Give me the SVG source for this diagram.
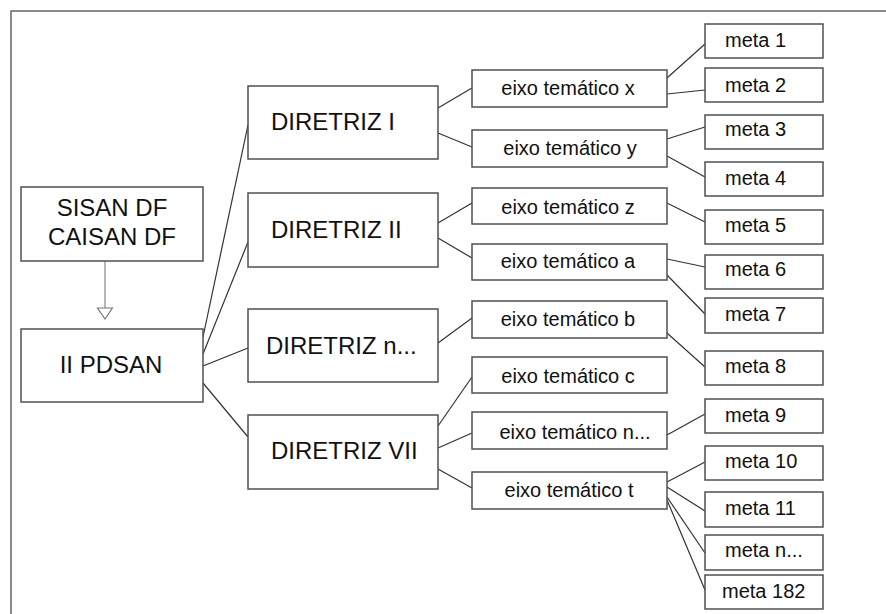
<svg xmlns="http://www.w3.org/2000/svg" width="886" height="614" viewBox="0 0 886 614">
<style>
.box{fill:#fff;stroke:#505050;stroke-width:1.5}
.big{font-family:"Liberation Sans",Arial,sans-serif;font-size:24px;fill:#111}
.mid{font-family:"Liberation Sans",Arial,sans-serif;font-size:20px;fill:#111;text-anchor:middle}
.sm{font-family:"Liberation Sans",Arial,sans-serif;font-size:20px;fill:#111}
.c{stroke:#333;stroke-width:1.2;fill:none}
.frame{stroke:#666;stroke-width:1.5;fill:none}
</style>
<defs>
<marker id="tri" markerUnits="userSpaceOnUse" markerWidth="14" markerHeight="18" refX="1" refY="8.5" orient="auto">
<path d="M1,1 L12,8.5 L1,16 Z" fill="#fff" stroke="#777" stroke-width="1.2"/>
</marker>
</defs>
<rect width="886" height="614" fill="#fff"/>
<path class="frame" d="M11,614 L11,11 L886,11"/>

<g id="connectors">
<line x1="105" y1="261" x2="105" y2="308" stroke="#888" stroke-width="1.2" marker-end="url(#tri)"/>
<line class="c" x1="203" y1="337" x2="248" y2="125"/>
<line class="c" x1="203" y1="354" x2="248" y2="242"/>
<line class="c" x1="203" y1="366" x2="248" y2="348"/>
<line class="c" x1="203" y1="383" x2="248" y2="437"/>

<line class="c" x1="438" y1="108" x2="472" y2="88"/>
<line class="c" x1="438" y1="133" x2="472" y2="147"/>
<line class="c" x1="438" y1="223" x2="472" y2="203"/>
<line class="c" x1="438" y1="238" x2="472" y2="258"/>
<line class="c" x1="438" y1="343" x2="472" y2="318"/>
<line class="c" x1="438" y1="426" x2="472" y2="377"/>
<line class="c" x1="438" y1="448" x2="472" y2="433"/>
<line class="c" x1="438" y1="469" x2="472" y2="488"/>

<line class="c" x1="667" y1="78" x2="705" y2="44"/>
<line class="c" x1="667" y1="94" x2="705" y2="90"/>
<line class="c" x1="667" y1="139" x2="705" y2="127"/>
<line class="c" x1="667" y1="156" x2="705" y2="177"/>
<line class="c" x1="667" y1="203" x2="705" y2="222"/>
<line class="c" x1="667" y1="259" x2="705" y2="267"/>
<line class="c" x1="667" y1="275" x2="705" y2="314"/>
<line class="c" x1="667" y1="333" x2="705" y2="367"/>
<line class="c" x1="667" y1="435" x2="705" y2="414"/>
<line class="c" x1="667" y1="482" x2="705" y2="462"/>
<line class="c" x1="667" y1="487" x2="705" y2="511"/>
<line class="c" x1="667" y1="497" x2="705" y2="553"/>
<line class="c" x1="667" y1="500" x2="705" y2="590"/>
</g>

<g id="sisan"><rect class="box" x="21" y="187" width="182" height="74"/>
<text class="big" x="112" y="216" text-anchor="middle">SISAN DF</text>
<text class="big" x="112" y="245" text-anchor="middle">CAISAN DF</text></g>
<g id="pdsan"><rect class="box" x="21" y="329" width="182" height="73"/>
<text class="big" x="111" y="373" text-anchor="middle">II PDSAN</text></g>

<g id="dir1"><rect class="box" x="248" y="86" width="190" height="73"/><text class="big" x="271" y="130">DIRETRIZ I</text></g>
<g id="dir2"><rect class="box" x="248" y="193" width="190" height="74"/><text class="big" x="271" y="238">DIRETRIZ II</text></g>
<g id="dirn"><rect class="box" x="248" y="309" width="190" height="73"/><text class="big" x="266" y="354">DIRETRIZ n...</text></g>
<g id="dir7"><rect class="box" x="248" y="415" width="190" height="74"/><text class="big" x="271" y="459">DIRETRIZ VII</text></g>

<g id="eixox"><rect class="box" x="472" y="70" width="195" height="37"/><text class="mid" x="568" y="95">eixo temático x</text></g>
<g id="eixoy"><rect class="box" x="472" y="130" width="195" height="37"/><text class="mid" x="570" y="155">eixo temático y</text></g>
<g id="eixoz"><rect class="box" x="472" y="188" width="195" height="36"/><text class="mid" x="568" y="214">eixo temático z</text></g>
<g id="eixoa"><rect class="box" x="472" y="244" width="195" height="36"/><text class="mid" x="568" y="268">eixo temático a</text></g>
<g id="eixob"><rect class="box" x="472" y="301" width="195" height="37"/><text class="mid" x="568" y="326">eixo temático b</text></g>
<g id="eixoc"><rect class="box" x="472" y="357" width="195" height="36"/><text class="mid" x="568" y="383">eixo temático c</text></g>
<g id="eixon"><rect class="box" x="472" y="412" width="195" height="37"/><text class="mid" x="575" y="439">eixo temático n...</text></g>
<g id="eixot"><rect class="box" x="472" y="472" width="195" height="37"/><text class="mid" x="569" y="497">eixo temático t</text></g>

<g id="meta1"><rect class="box" x="705" y="24" width="118" height="34"/><text class="sm" x="725" y="47">meta 1</text></g>
<g id="meta2"><rect class="box" x="705" y="68" width="118" height="34"/><text class="sm" x="725" y="92">meta 2</text></g>
<g id="meta3"><rect class="box" x="705" y="115" width="118" height="34"/><text class="sm" x="725" y="136">meta 3</text></g>
<g id="meta4"><rect class="box" x="705" y="162" width="118" height="34"/><text class="sm" x="725" y="185">meta 4</text></g>
<g id="meta5"><rect class="box" x="705" y="210" width="118" height="34"/><text class="sm" x="725" y="232">meta 5</text></g>
<g id="meta6"><rect class="box" x="705" y="255" width="118" height="34"/><text class="sm" x="725" y="276">meta 6</text></g>
<g id="meta7"><rect class="box" x="705" y="298" width="118" height="35"/><text class="sm" x="725" y="321">meta 7</text></g>
<g id="meta8"><rect class="box" x="705" y="351" width="118" height="34"/><text class="sm" x="725" y="373">meta 8</text></g>
<g id="meta9"><rect class="box" x="705" y="399" width="118" height="34"/><text class="sm" x="725" y="422">meta 9</text></g>
<g id="meta10"><rect class="box" x="705" y="446" width="118" height="34"/><text class="sm" x="725" y="468">meta 10</text></g>
<g id="meta11"><rect class="box" x="705" y="492" width="118" height="35"/><text class="sm" x="725" y="515">meta 11</text></g>
<g id="metan"><rect class="box" x="705" y="535" width="118" height="35"/><text class="sm" x="725" y="557">meta n...</text></g>
<g id="meta182"><rect class="box" x="705" y="575" width="118" height="34"/><text class="sm" x="722" y="598">meta 182</text></g>
</svg>
